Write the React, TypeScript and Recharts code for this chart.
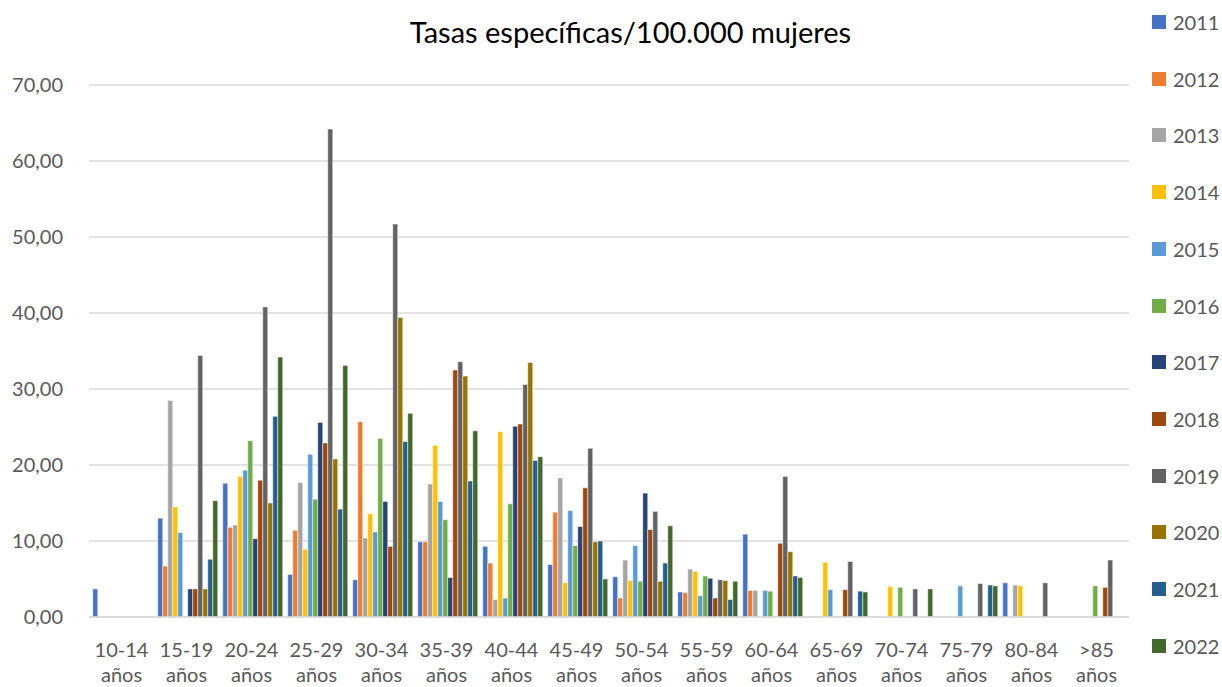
import React from 'react';
import { BarChart, Bar, XAxis, YAxis, CartesianGrid } from 'recharts';

// age groups (x axis), two-line labels
const groups = ['10-14', '15-19', '20-24', '25-29', '30-34', '35-39', '40-44', '45-49', '50-54', '55-59', '60-64', '65-69', '70-74', '75-79', '80-84', '>85'];

const years = ['2011', '2012', '2013', '2014', '2015', '2016', '2017', '2018', '2019', '2020', '2021', '2022'];

const colors = ['#4472C4', '#ED7D31', '#A5A5A5', '#FFC000', '#5B9BD5', '#70AD47', '#264478', '#9E480E', '#636363', '#997300', '#255E91', '#43682B'];

// tasas por grupo de edad, una lista por año
const y2011 = [3.7, 13.0, 17.6, 5.6, 4.9, 9.9, 9.3, 6.9, 5.3, 3.3, 10.9, null, null, null, 4.5, null];
const y2012 = [null, 6.7, 11.8, 11.4, 25.7, 9.9, 7.1, 13.8, 2.5, 3.2, 3.5, null, null, null, null, null];
const y2013 = [null, 28.5, 12.1, 17.7, 10.4, 17.5, 2.3, 18.3, 7.5, 6.3, 3.5, null, null, null, 4.2, null];
const y2014 = [null, 14.5, 18.5, 8.9, 13.6, 22.6, 24.4, 4.5, 4.8, 6.0, null, 7.2, 4.0, null, 4.1, null];
const y2015 = [null, 11.1, 19.3, 21.4, 11.2, 15.2, 2.5, 14.0, 9.4, 2.8, 3.5, 3.6, null, 4.1, null, null];
const y2016 = [null, null, 23.2, 15.5, 23.5, 12.8, 14.9, 9.4, 4.7, 5.4, 3.4, null, 3.9, null, null, 4.1];
const y2017 = [null, 3.7, 10.3, 25.6, 15.2, 5.2, 25.1, 11.9, 16.3, 5.1, null, null, null, null, null, null];
const y2018 = [null, 3.7, 18.0, 22.9, 9.3, 32.5, 25.4, 17.0, 11.5, 2.5, 9.7, 3.6, null, null, null, 3.9];
const y2019 = [null, 34.4, 40.8, 64.2, 51.7, 33.6, 30.6, 22.2, 13.9, 4.9, 18.5, 7.3, 3.7, 4.4, 4.5, 7.5];
const y2020 = [null, 3.7, 15.0, 20.8, 39.4, 31.7, 33.5, 9.9, 4.7, 4.8, 8.6, null, null, null, null, null];
const y2021 = [null, 7.6, 26.4, 14.2, 23.1, 17.9, 20.6, 10.0, 7.1, 2.3, 5.4, 3.4, null, 4.2, null, null];
const y2022 = [null, 15.3, 34.2, 33.1, 26.8, 24.5, 21.1, 5.0, 12.0, 4.7, 5.2, 3.3, 3.7, 4.1, null, null];

const series = [y2011, y2012, y2013, y2014, y2015, y2016, y2017, y2018, y2019, y2020, y2021, y2022];

const yTicks = [0, 10, 20, 30, 40, 50, 60, 70];

const rows = groups.map((g, i) => {
  const row: Record<string, string | number | null> = { grupo: g };
  years.forEach((yr, k) => {
    row[yr] = series[k][i];
  });
  return row;
});

const FONT = 'Lato, "Open Sans", sans-serif';
const GREY = '#595959';

const fmt = (v: number) => v.toFixed(2).replace('.', ',');

const AgeTick = (props: any) => {
  const { x, y, payload } = props;
  return (
    <text x={x} y={y} textAnchor="middle" fill={GREY} fontSize={20} fontFamily={FONT}>
      <tspan x={x} dy={38}>{payload.value}</tspan>
      <tspan x={x} dy={25}>años</tspan>
    </text>
  );
};

const App: React.FC = () => {
  return (
    <div style={{ position: 'absolute', left: 0, top: 0, width: 1222, height: 687, background: '#fff', fontFamily: FONT }}>
      <div style={{ position: 'absolute', left: 0, width: 1261, top: 14, textAlign: 'center', fontSize: 29, color: '#000', lineHeight: '36px' }}>
        Tasas específicas/100.000 mujeres
      </div>

      <BarChart
        width={1222}
        height={687}
        data={rows}
        margin={{ top: 85, right: 93, bottom: 0, left: 0 }}
        barCategoryGap={3.75}
        barGap={0}
      >
        <CartesianGrid vertical={false} stroke="#d9d9d9" strokeWidth={1.3} />
        <XAxis
          dataKey="grupo"
          height={70}
          tickLine={false}
          tickSize={0}
          interval={0}
          axisLine={{ stroke: '#d9d9d9', strokeWidth: 1.3 }}
          tick={<AgeTick />}
        />
        <YAxis
          width={89}
          domain={[0, 70]}
          ticks={yTicks}
          tickFormatter={fmt}
          axisLine={false}
          tickLine={false}
          tickSize={0}
          tickMargin={26}
          tick={{ fill: GREY, fontSize: 20, fontFamily: FONT }}
        />
        {years.map((yr, k) => (
          <Bar key={yr} dataKey={yr} fill={colors[k]} stroke="#fff" strokeWidth={0.5} isAnimationActive={false} />
        ))}
      </BarChart>

      <div style={{ position: 'absolute', left: 1152, top: 0 }}>
        {years.map((yr, k) => (
          <div key={yr} style={{ position: 'absolute', top: 8 + k * 56.7, left: 0, display: 'flex', alignItems: 'center', height: 28, whiteSpace: 'nowrap' }}>
            <span style={{ display: 'inline-block', width: 14, height: 14, background: colors[k], marginRight: 7 }} />
            <span style={{ fontSize: 20, color: GREY }}>{yr}</span>
          </div>
        ))}
      </div>
    </div>
  );
};

export default App;
